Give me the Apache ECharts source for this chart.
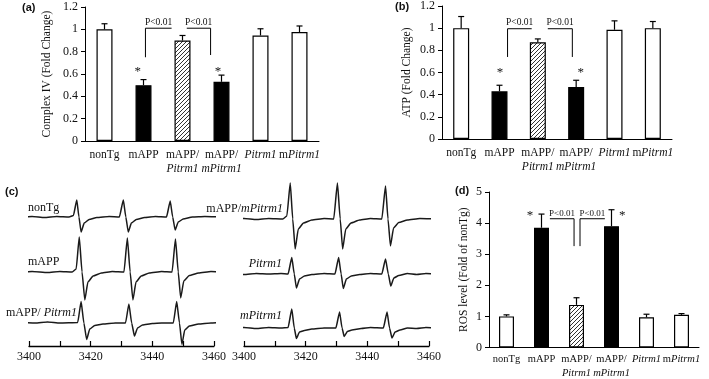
<!DOCTYPE html>
<html>
<head>
<meta charset="utf-8">
<script src="https://cdn.jsdelivr.net/npm/echarts@6/dist/echarts.min.js"></script>
<style>
  html, body { margin: 0; padding: 0; background: #fff; }
  #chart { width: 709px; height: 379px; }
</style>
</head>
<body>
<div id="chart"></div>
<script>
// groups shown on the bar panels
const categories = ['nonTg', 'mAPP', 'mAPP/Pitrm1', 'mAPP/mPitrm1', 'Pitrm1', 'mPitrm1'];

// (a) complex IV activity, fold change
const complexIV = [1.0, 0.50, 0.90, 0.53, 0.945, 0.975];
const complexIVErr = [0.05, 0.05, 0.045, 0.06, 0.06, 0.055];
// (b) ATP, fold change
const atp = [1.0, 0.43, 0.873, 0.47, 0.986, 1.0];
const atpErr = [0.105, 0.055, 0.03, 0.06, 0.08, 0.06];
// (d) ROS level, fold of nonTg
const ros = [1.0, 3.85, 1.37, 3.9, 0.97, 1.05];
const rosErr = [0.05, 0.44, 0.23, 0.53, 0.1, 0.04];

// significance brackets: [x of vertical leg, x of other end, top, bottom of leg] (x in category units)
const sigA = [[1.05, 1.72, 1.01, 0.75], [2.72, 2.11, 1.01, 0.77]];
const sigB = [[1.21, 1.84, 0.995, 0.74], [2.90, 2.26, 0.995, 0.74]];
const sigD = [[1.93, 1.24, 4.14, 3.26], [2.10, 2.81, 4.14, 3.26]];
// asterisks: [x in category units, value]
const starsA = [[0.85, 0.65], [2.91, 0.65]];
const starsB = [[1.01, 0.63], [3.12, 0.63]];
const starsD = [[0.67, 4.33], [3.31, 4.33]];

// (c) EPR spectra, [field (G), signal]
const eprNonTg = [[3397,0],[3401,0.5],[3405,-0.5],[3409,0.5],[3413,0],[3414.4,1.5],[3415.5,17],[3416.2,0],[3416.9,-15],[3417.9,-6],[3419.5,-2.5],[3422,-0.5],[3426,0.5],[3429.3,0],[3430.6,17],[3431.4,0],[3432.2,-15],[3433.2,-6],[3434.8,-2.5],[3437.5,-0.5],[3441,0.5],[3444.6,0],[3445.8,16],[3446.6,0],[3447.4,-13],[3448.4,-5],[3450,-2],[3453,0],[3457,0.5],[3462.5,0]];
const eprMAPP = [[3397,0],[3401,0.5],[3406,-0.5],[3410,0.5],[3414,0],[3415.3,3],[3416.3,35],[3417.2,0],[3418.1,-28],[3419.1,-10],[3420.8,-4],[3423.5,-1],[3427,0.5],[3430.8,0],[3431.9,34],[3432.8,0],[3433.7,-28],[3434.7,-10],[3436.4,-4],[3439,-1],[3443,0.5],[3446.4,0],[3447.5,33],[3448.4,0],[3449.2,-26],[3450.2,-9],[3452,-3.5],[3455,-1],[3459,0.5],[3463.5,0]];
const eprMAPPPitrm1 = [[3398,0.5],[3402,0],[3406,1],[3410,0],[3415.8,0.5],[3416.9,21.5],[3417.8,0],[3418.7,-16.5],[3419.7,-6],[3421.3,-2.5],[3424,-1],[3428,0],[3431.3,0],[3432.4,19],[3433.3,0],[3434.2,-13],[3435.2,-5],[3436.8,-2],[3440,-0.5],[3443,0],[3446.8,0],[3447.9,21.5],[3448.8,0],[3449.6,-21.5],[3450.5,-7],[3452,-3],[3455,-1],[3459,0],[3463,0.5]];
const eprMAPPmPitrm1 = [[3396.5,0],[3400,0.5],[3404,-0.5],[3408,0.5],[3412.6,0],[3413.9,3],[3415,36],[3415.8,0],[3416.6,-30],[3417.6,-10],[3419.3,-4],[3422,-1],[3426,0.5],[3429.1,0],[3430.3,36],[3431.2,0],[3432,-30],[3433,-10],[3434.7,-4],[3437.5,-1],[3441,0.5],[3444.7,0],[3445.9,33],[3446.7,0],[3447.5,-27],[3448.5,-9],[3450.2,-3.5],[3453,-1],[3457,0.5],[3462.7,0]];
const eprPitrm1 = [[3396.5,0],[3400,-0.5],[3404,0.5],[3408,0],[3412,0.5],[3414.3,0],[3415.5,16.5],[3416.3,0],[3417,-14],[3418,-5],[3419.6,-2],[3422,-0.5],[3426,0.5],[3429.5,0],[3430.7,16.5],[3431.5,0],[3432.2,-14.5],[3433.2,-5],[3434.8,-2],[3437.5,-0.5],[3441,0.5],[3444.7,0],[3445.9,15],[3446.8,0],[3447.6,-12],[3448.6,-4],[3450.2,-1.5],[3453,0.5],[3456,-0.5],[3459,0.5],[3462.7,0]];
const eprMPitrm1 = [[3396.5,0],[3400,0.5],[3404,-0.5],[3408,0.5],[3412,0],[3414.3,0.5],[3415.5,19],[3416.3,0],[3417,-10.5],[3418,-4],[3419.6,-2.5],[3422,-1],[3426,0],[3429.8,0],[3431,16],[3431.8,0],[3432.5,-8.5],[3433.5,-3.5],[3435,-2],[3438,-0.5],[3441,0.5],[3445.2,0],[3446.4,16],[3447.2,0],[3448,-10],[3449,-4],[3450.6,-2],[3453,0],[3456,-0.5],[3459,0.5],[3462.7,0]];

const SERIF = '"Liberation Serif", "Times New Roman", serif';
const SANS = '"Liberation Sans", Arial, sans-serif';
const INK = '#111';

// stacking of the traces inside the two (c) boxes
const leftTraces = [eprNonTg, eprMAPP, eprMAPPPitrm1];
const rightTraces = [eprMAPPmPitrm1, eprPitrm1, eprMPitrm1];
const leftBase = [129, 74, 23];
const rightBase = [127, 72, 18];

// diagonal hatch for the rescued group
const hatch = document.createElement('canvas');
hatch.width = 4;
hatch.height = 4;
const hctx = hatch.getContext('2d');
hctx.fillStyle = '#fff';
hctx.fillRect(0, 0, 4, 4);
hctx.strokeStyle = '#333';
hctx.lineWidth = 1;
hctx.beginPath();
hctx.moveTo(0, 4); hctx.lineTo(4, 0);
hctx.moveTo(-1, 1); hctx.lineTo(1, -1);
hctx.moveTo(3, 5); hctx.lineTo(5, 3);
hctx.stroke();
const fills = ['#fff', '#000', {image: hatch, repeat: 'repeat'}, '#000', '#fff', '#fff'];

const catLabels = {
  'nonTg': '{n|nonTg}',
  'mAPP': '{n|mAPP}',
  'mAPP/Pitrm1': '{n|mAPP/}\n{i|Pitrm1}',
  'mAPP/mPitrm1': '{n|mAPP/}\n{i|mPitrm1}',
  'Pitrm1': '{i|Pitrm1}',
  'mPitrm1': '{n|m}{i|Pitrm1}'
};

function catAxis(idx, size, margin) {
  return {
    gridIndex: idx, type: 'category', data: categories,
    axisLine: {lineStyle: {color: '#000', width: 1}},
    axisTick: {length: 4, lineStyle: {color: '#000'}},
    axisLabel: {
      interval: 0, margin: margin, color: INK,
      formatter: v => catLabels[v],
      rich: {
        n: {fontFamily: SERIF, fontSize: size, color: INK, lineHeight: 14},
        i: {fontFamily: SERIF, fontSize: size, fontStyle: 'italic', color: INK, lineHeight: 14}
      }
    }
  };
}

function valAxis(idx, max, step, name, gap) {
  return {
    gridIndex: idx, type: 'value', min: 0, max: max, interval: step,
    splitLine: {show: false},
    axisLine: {show: true, lineStyle: {color: '#000', width: 1}},
    axisTick: {show: true, length: 4, lineStyle: {color: '#000'}},
    axisLabel: {fontFamily: SERIF, fontSize: 12, color: INK, margin: 7},
    name: name, nameLocation: 'middle', nameGap: gap,
    nameTextStyle: {fontFamily: SERIF, fontSize: 11.5, color: INK}
  };
}

function eprXAxis(idx) {
  return {
    gridIndex: idx, type: 'value', min: 3400, max: 3460, interval: 10,
    splitLine: {show: false},
    axisLine: {lineStyle: {color: '#000', width: 1.3}},
    axisTick: {inside: true, length: 5, lineStyle: {color: '#000', width: 1.2}},
    axisLabel: {
      fontFamily: SERIF, fontSize: 12, color: INK, margin: 5,
      showMinLabel: true, showMaxLabel: true,
      formatter: v => (v % 20 === 0 ? String(v) : '')
    }
  };
}

function barSeries(idx, vals, width) {
  return {
    type: 'bar', xAxisIndex: idx, yAxisIndex: idx, barWidth: width,
    itemStyle: {borderColor: '#000', borderWidth: 1.2},
    data: vals.map((v, i) => ({value: v, itemStyle: {color: fills[i]}})),
    silent: true
  };
}

function errSeries(idx, vals, errs, cap) {
  return {
    type: 'custom', xAxisIndex: idx, yAxisIndex: idx, z: 3, silent: true,
    data: vals.map((v, i) => [i, v, errs[i]]),
    renderItem: (params, api) => {
      const base = api.coord([api.value(0), api.value(1)]);
      const top = api.coord([api.value(0), api.value(1) + api.value(2)]);
      const st = {stroke: '#000', lineWidth: 1.2};
      return {type: 'group', children: [
        {type: 'line', shape: {x1: base[0], y1: base[1], x2: top[0], y2: top[1]}, style: st},
        {type: 'line', shape: {x1: top[0] - cap, y1: top[1], x2: top[0] + cap, y2: top[1]}, style: st}
      ]};
    }
  };
}

function sigSeries(idx, brackets, fontSize) {
  return {
    type: 'custom', xAxisIndex: idx, yAxisIndex: idx, z: 4, silent: true,
    data: brackets.map(b => [0, b[2]]),
    renderItem: (params, api) => {
      const b = brackets[params.dataIndex];
      const band = api.size([1, 0])[0];
      const x0 = api.coord([0, 0])[0];
      const xa = x0 + b[0] * band, xb = x0 + b[1] * band;
      const yt = api.coord([0, b[2]])[1], yb = api.coord([0, b[3]])[1];
      const st = {stroke: '#000', lineWidth: 1};
      return {type: 'group', children: [
        {type: 'line', shape: {x1: xa, y1: yt, x2: xb, y2: yt}, style: st},
        {type: 'line', shape: {x1: xa, y1: yt, x2: xa, y2: yb}, style: st},
        {type: 'text', x: (xa + xb) / 2, y: yt - 1,
          style: {text: 'P<0.01', fontFamily: SERIF, fontSize: fontSize, fill: INK, align: 'center', verticalAlign: 'bottom'}}
      ]};
    }
  };
}

function starSeries(idx, stars) {
  return {
    type: 'custom', xAxisIndex: idx, yAxisIndex: idx, z: 4, silent: true,
    data: stars.map(s => [0, s[1]]),
    renderItem: (params, api) => {
      const s = stars[params.dataIndex];
      const band = api.size([1, 0])[0];
      const x = api.coord([0, 0])[0] + s[0] * band;
      const y = api.coord([0, s[1]])[1];
      return {type: 'text', x: x, y: y + 3,
        style: {text: '*', fontFamily: SERIF, fontSize: 13, fill: INK, align: 'center', verticalAlign: 'middle'}};
    }
  };
}

function eprSeries(idx, trace, base) {
  return {
    type: 'line', xAxisIndex: idx, yAxisIndex: idx, clip: false,
    showSymbol: false, smooth: 0.15, smoothMonotone: 'x', silent: true,
    lineStyle: {color: '#1a1a1a', width: 1.5, join: 'round'},
    data: trace.map(p => [p[0], p[1] + base])
  };
}

function label(text, x, y, align, rich) {
  return {type: 'text', x: x, y: y, silent: true,
    style: {text: text, fontFamily: SERIF, fontSize: 12, fill: INK, align: align, verticalAlign: 'middle', rich: rich}};
}

const eprRich = {
  n: {fontFamily: SERIF, fontSize: 12, fill: INK},
  i: {fontFamily: SERIF, fontSize: 12, fontStyle: 'italic', fill: INK}
};

const chart = echarts.init(document.getElementById('chart'));
chart.setOption({
  backgroundColor: '#fff',
  animation: false,
  grid: [
    {left: 85, top: 7, width: 234, height: 134},
    {left: 442, top: 5, width: 230, height: 134},
    {left: 29, top: 176, width: 185, height: 170},
    {left: 244, top: 176, width: 185, height: 170},
    {left: 489, top: 192, width: 210, height: 158}
  ],
  xAxis: [
    catAxis(0, 11.5, 7),
    catAxis(1, 11.5, 7),
    eprXAxis(2),
    eprXAxis(3),
    catAxis(4, 10.5, 5)
  ],
  yAxis: [
    valAxis(0, 1.2, 0.2, 'Complex IV (Fold Change)', 32),
    valAxis(1, 1.2, 0.2, 'ATP (Fold Change)', 29),
    {gridIndex: 2, type: 'value', min: 0, max: 170, show: false},
    {gridIndex: 3, type: 'value', min: 0, max: 170, show: false},
    valAxis(4, 5, 1, 'ROS level (Fold of nonTg)', 19)
  ],
  series: [
    barSeries(0, complexIV, 16), errSeries(0, complexIV, complexIVErr, 3), sigSeries(0, sigA, 9.5), starSeries(0, starsA),
    barSeries(1, atp, 16), errSeries(1, atp, atpErr, 3), sigSeries(1, sigB, 9.5), starSeries(1, starsB),
    barSeries(4, ros, 15), errSeries(4, ros, rosErr, 3), sigSeries(4, sigD, 9), starSeries(4, starsD)
  ].concat(
    leftTraces.map((t, i) => eprSeries(2, t, leftBase[i])),
    rightTraces.map((t, i) => eprSeries(3, t, rightBase[i]))
  ),
  graphic: [
    {type: 'text', x: 22, y: 8, style: {text: '(a)', fontFamily: SANS, fontWeight: 'bold', fontSize: 11, fill: INK, verticalAlign: 'middle'}},
    {type: 'text', x: 395, y: 7, style: {text: '(b)', fontFamily: SANS, fontWeight: 'bold', fontSize: 11, fill: INK, verticalAlign: 'middle'}},
    {type: 'text', x: 5, y: 192, style: {text: '(c)', fontFamily: SANS, fontWeight: 'bold', fontSize: 11, fill: INK, verticalAlign: 'middle'}},
    {type: 'text', x: 455, y: 191, style: {text: '(d)', fontFamily: SANS, fontWeight: 'bold', fontSize: 11, fill: INK, verticalAlign: 'middle'}},
    label('{n|nonTg}', 28, 208, 'left', eprRich),
    label('{n|mAPP}', 28, 262, 'left', eprRich),
    label('{n|mAPP/ }{i|Pitrm1}', 77, 313, 'right', eprRich),
    label('{n|mAPP/}{i|mPitrm1}', 283, 209, 'right', eprRich),
    label('{i|Pitrm1}', 282, 264, 'right', eprRich),
    label('{i|mPitrm1}', 282, 316, 'right', eprRich)
  ]
});
</script>
</body>
</html>
